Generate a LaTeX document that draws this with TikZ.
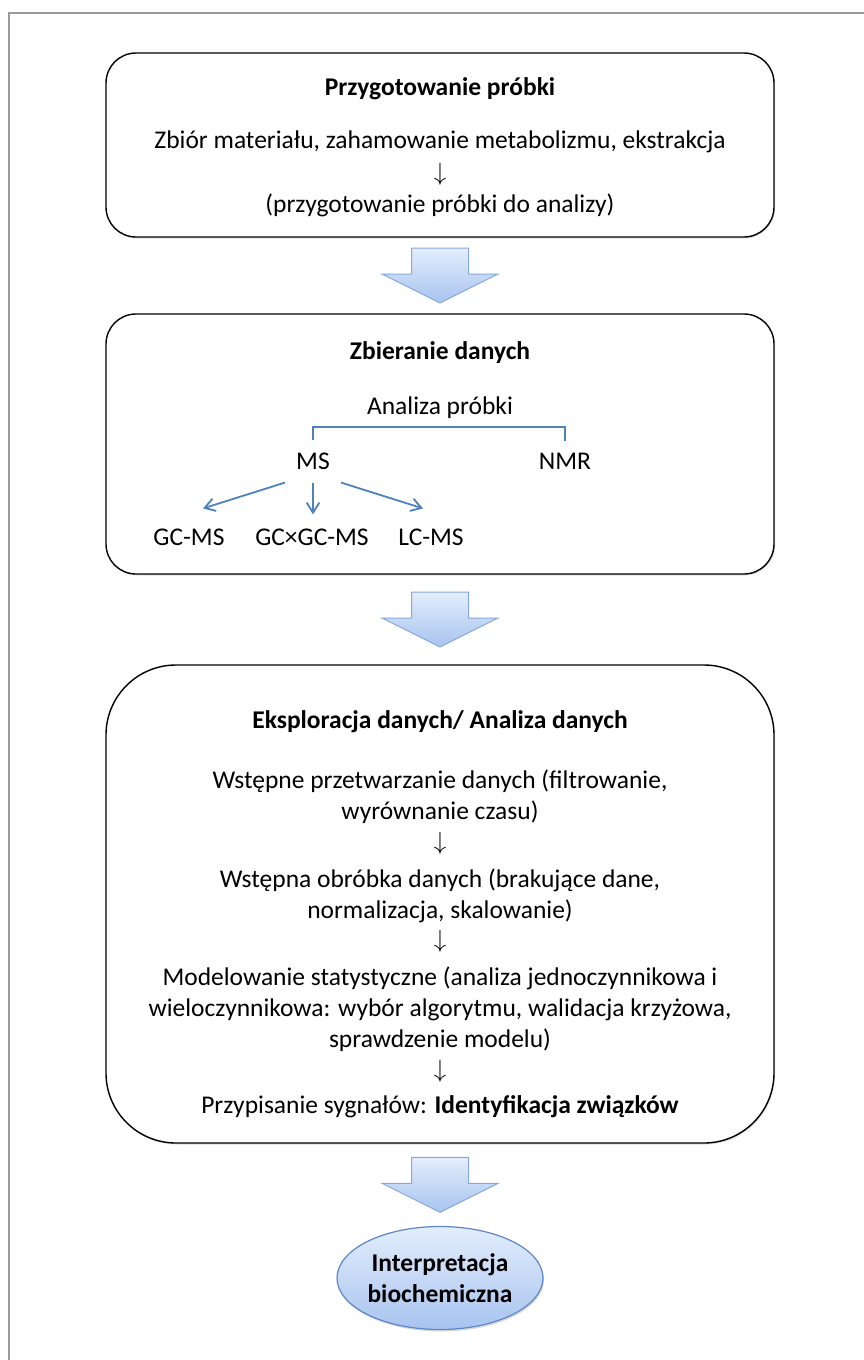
\documentclass[tikz,border=0pt]{standalone}
\usepackage{fontspec}
\setmainfont{Carlito}
\usetikzlibrary{shapes.geometric,shadows,arrows.meta,calc}
\definecolor{frameGray}{HTML}{9A9A9A}
\definecolor{treeBlue}{HTML}{4F81BD}
\definecolor{arrowEdge}{HTML}{86A9DB}
\definecolor{arrowTop}{HTML}{E3EDFC}
\definecolor{arrowBottom}{HTML}{A8C4EF}
\definecolor{ovalEdge}{HTML}{5B87C5}
\newcommand{\dn}{{\fontsize{23}{26}\selectfont$\downarrow$}}
\tikzset{
	stagebox/.style={draw, line width=1.4pt, fill=white, rounded corners=30pt,
		drop shadow={opacity=.25, shadow xshift=1pt, shadow yshift=-1.5pt}},
	txt/.style={font=\fontsize{25.5}{31}\selectfont, align=center, inner sep=0pt},
	treeline/.style={treeBlue, line width=1.8pt},
	treearrow/.style={treeline, -{Straight Barb[angle=64:12pt, line width=1.8pt]}},
	flowarrow/.pic={
		\draw[arrowEdge, line width=1pt, top color=arrowTop, bottom color=arrowBottom]
		(-28.5,-27.5) -- (28.5,-27.5) -- (28.5,-1.5) -- (58,-1.5) -- (0,27.5)
		-- (-58,-1.5) -- (-28.5,-1.5) -- cycle;
	}
}
\begin{document}
\begin{tikzpicture}[x=1pt, y=-1pt]
	\useasboundingbox (0,0) rectangle (864,1360);
	%frame
	\draw[frameGray, line width=2pt] (9,1360) -- (9,12.5) -- (864,12.5);
	%stages
	\node[stagebox, minimum width=668pt, minimum height=184pt] (prep) at (440,145) {};
	\node[stagebox, minimum width=668pt, minimum height=260pt] (collect) at (440,444) {};
	\node[stagebox, minimum width=668pt, minimum height=478pt, rounded corners=70pt] (explore) at (440,904) {};
	\node[ellipse, draw=ovalEdge, line width=1.2pt, top color=arrowTop, bottom color=arrowBottom,
		minimum width=206pt, minimum height=103pt, inner sep=0pt, txt,
		drop shadow={opacity=.3, shadow xshift=1pt, shadow yshift=-2pt}] (interp) at (440,1278)
		{\textbf{Interpretacja}\\\textbf{biochemiczna}};
	%block arrows
	\pic at ($(prep.south)!.5!(collect.north)$) {flowarrow};
	\pic at ($(collect.south)!.5!(explore.north)$) {flowarrow};
	\pic at ($(explore.south)!.5!(interp.north)$) {flowarrow};
	%sample preparation
	\node[txt] (prepTitle) at (440,89) {\textbf{Przygotowanie próbki}};
	\node[txt] (prepLine) at (440,142) {Zbiór materiału, zahamowanie metabolizmu, ekstrakcja};
	\node[txt] (prepArrow) at (440,174) {\dn};
	\node[txt] (prepGoal) at (440,205) {(przygotowanie próbki do analizy)};
	%data collection
	\node[txt] (collectTitle) at (440,353) {\textbf{Zbieranie danych}};
	\node[txt] (analiza) at (440,408) {Analiza próbki};
	\node[txt] (ms) at (313,461) {MS};
	\node[txt] (nmr) at (565,461) {NMR};
	\node[txt] (gcms) at (189,537) {GC-MS};
	\node[txt] (gcgc) at (312,537) {GC×GC-MS};
	\node[txt] (lcms) at (431,537) {LC-MS};
	\coordinate (fork) at (440,427);
	\draw[treeline] ([yshift=12pt]ms.north) -- (ms |- fork) -- (nmr |- fork) -- ([yshift=12pt]nmr.north);
	\draw[treearrow] ([xshift=-28pt, yshift=-13pt]ms.south) -- ([xshift=14pt, yshift=20pt]gcms.north);
	\draw[treearrow] ([yshift=-13pt]ms.south) -- ([yshift=14pt]ms.south |- gcgc.north);
	\draw[treearrow] ([xshift=28pt, yshift=-13pt]ms.south) -- ([xshift=-8pt, yshift=20pt]lcms.north);
	%data exploration
	\node[txt] (exploreTitle) at (440,722) {\textbf{Eksploracja danych/ Analiza danych}};
	\node[txt] (preproc) at (440,797) {Wstępne przetwarzanie danych (filtrowanie,\\wyrównanie czasu)};
	\node[txt] (arrowA) at (440,843) {\dn};
	\node[txt] (pretreat) at (440,896) {Wstępna obróbka danych (brakujące dane,\\normalizacja, skalowanie)};
	\node[txt] (arrowB) at (440,941) {\dn};
	\node[txt] (model) at (440,1009) {Modelowanie statystyczne (analiza jednoczynnikowa i\\wieloczynnikowa: wybór algorytmu, walidacja krzyżowa,\\sprawdzenie modelu)};
	\node[txt] (arrowC) at (440,1071) {\dn};
	\node[txt] (assign) at (440,1107) {Przypisanie sygnałów: \textbf{Identyfikacja związków}};
\end{tikzpicture}
\end{document}
